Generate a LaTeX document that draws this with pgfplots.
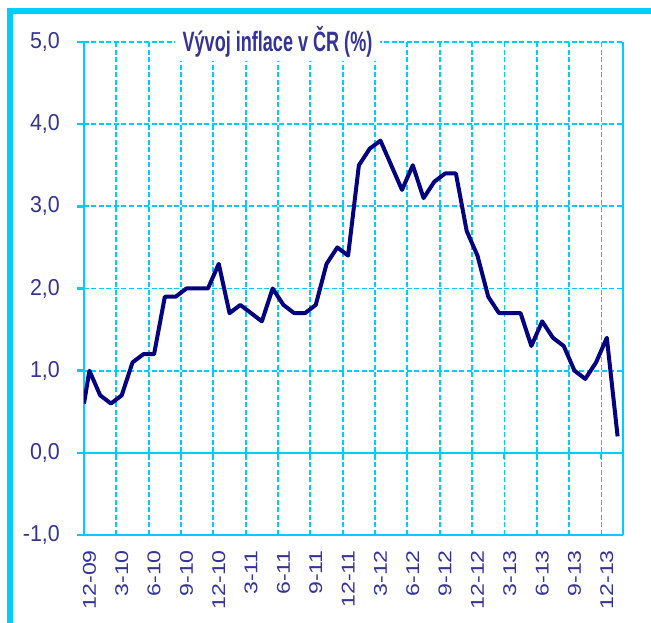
\documentclass[border=0pt]{standalone}
\usepackage{fontspec}
\setmainfont{Liberation Sans}
\newfontfamily\ylabfont[FakeStretch=0.93]{Liberation Sans}
\newfontfamily\xlabfont{Liberation Sans}
\newfontfamily\titlefont[FakeStretch=0.645]{Liberation Sans}
\usepackage{graphicx}
\usepackage{pgfplots}
\usepackage{pgfplotstable}
\pgfplotsset{compat=1.18}
\definecolor{gridc}{HTML}{00CCFF}
\definecolor{linec}{HTML}{000080}
\definecolor{textc}{HTML}{333399}
\newcommand\xl[1]{\scalebox{1.25}[1]{#1}}

\pgfplotstableread{
x y
-0.5 0.6
0 1.0
1 0.7
2 0.6
3 0.7
4 1.1
5 1.2
6 1.2
7 1.9
8 1.9
9 2.0
10 2.0
11 2.0
12 2.3
13 1.7
14 1.8
15 1.7
16 1.6
17 2.0
18 1.8
19 1.7
20 1.7
21 1.8
22 2.3
23 2.5
24 2.4
25 3.5
26 3.7
27 3.8
28 3.5
29 3.2
30 3.5
31 3.1
32 3.3
33 3.4
34 3.4
35 2.7
36 2.4
37 1.9
38 1.7
39 1.7
40 1.7
41 1.3
42 1.6
43 1.4
44 1.3
45 1.0
46 0.9
47 1.1
48 1.4
49 0.2
}\inflace

\begin{document}
\begin{tikzpicture}
\useasboundingbox (0,0) rectangle (651pt,623pt);
\fill[white] (0,0) rectangle (651pt,623pt);
\draw[gridc, line width=6pt] (9.5pt,-5pt) -- (9.5pt,612pt) -- (660pt,612pt);
\begin{axis}[
  at={(84pt,88pt)}, anchor=south west, scale only axis,
  width=539pt, height=493pt,
  xmin=-0.5, xmax=49.5, ymin=-1, ymax=5,
  axis x line*=bottom, axis y line*=box,
  axis line style={gridc, line width=2.5pt, -},
  xtick={0,3,...,48},
  xticklabels={\xl{12-09},\xl{3-10},\xl{6-10},\xl{9-10},\xl{12-10},\xl{3-11},\xl{6-11},\xl{9-11},\xl{12-11},\xl{3-12},\xl{6-12},\xl{9-12},\xl{12-12},\xl{3-13},\xl{6-13},\xl{9-13},\xl{12-13}},
  xtick style={draw=none},
  minor xtick={-0.5,2.5,...,47.5},
  xminorgrids,
  minor x grid style={gridc, line width=1.8pt, dash pattern=on 5pt off 2.5pt},
  xticklabel style={rotate=90, anchor=east, inner sep=0pt,
    font=\xlabfont\fontsize{18.5}{21}\selectfont, text=textc},
  xticklabel shift=8pt,
  ytick={-1,0,...,5},
  ytick pos=left,
  tick align=outside,
  major tick length=7pt,
  ytick style={gridc, line width=2.5pt},
  ymajorgrids,
  major grid style={gridc, line width=1.8pt, dash pattern=on 5pt off 2.5pt},
  extra y ticks={0},
  extra y tick labels={},
  extra y tick style={major grid style={gridc, solid, line width=2.5pt}},
  yticklabel style={anchor=east, inner sep=0pt,
    font=\ylabfont\fontsize{23}{27}\selectfont, text=textc},
  yticklabel shift=17pt,
  /pgf/number format/.cd, fixed, fixed zerofill, precision=1, use comma, assume math mode=true,
  /pgfplots/.cd,
  title={Vývoj\ inflace v ČR (\%)},
  title style={at={(rel axis cs:0.359,1)}, anchor=base, yshift=-16pt,
    fill=white, inner xsep=8pt, inner ysep=3pt,
    font=\titlefont\bfseries\fontsize{28}{31}\selectfont, text=textc},
]
\pgfplotsinvokeforeach{-0.5,2.5,5.5,8.5,11.5,14.5,17.5,20.5,23.5,26.5,29.5,32.5,35.5,38.5,41.5,44.5,47.5}{
  \draw[gridc, line width=2pt] (axis cs:#1,0) -- ++(0pt,-6pt);
}
\addplot[linec, line width=4pt, line join=round] table[x=x, y=y] {\inflace};
\end{axis}
\end{tikzpicture}
\end{document}
